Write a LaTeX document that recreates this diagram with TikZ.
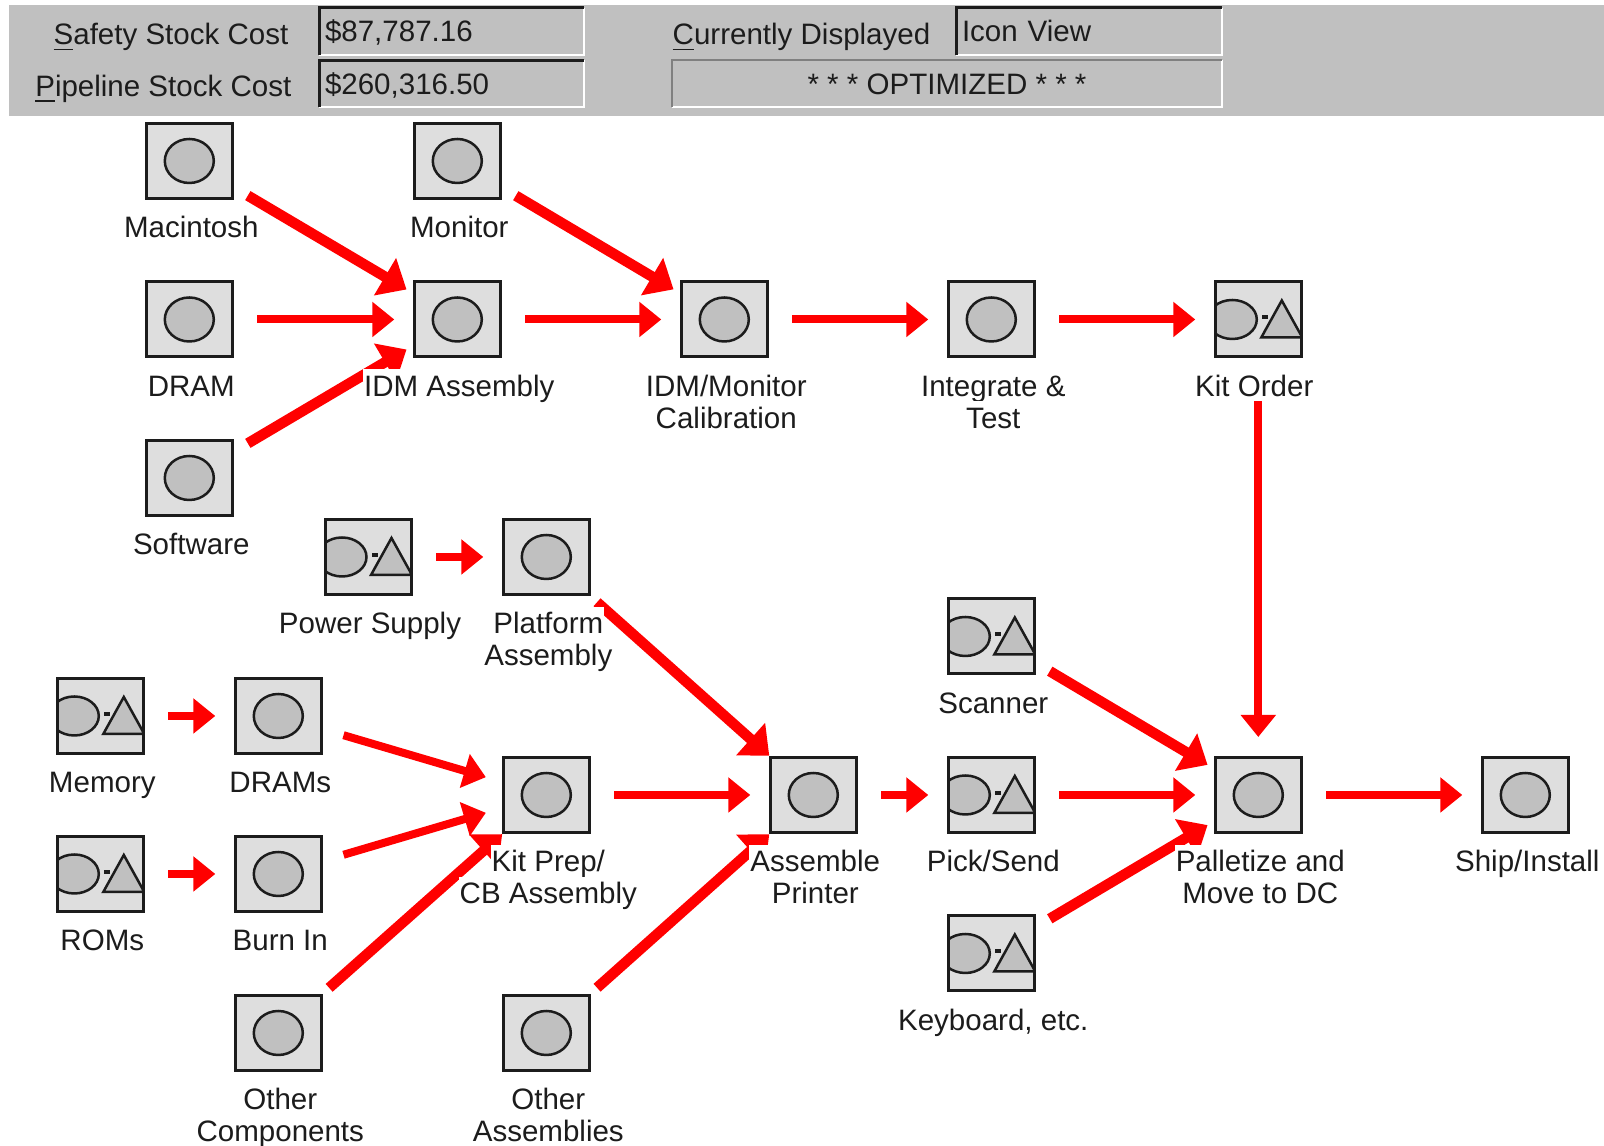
\documentclass[tikz,border=0pt]{standalone}
\usepackage{fontspec}
\setmainfont{Liberation Sans}
\usetikzlibrary{arrows.meta,positioning}
\definecolor{panelgrey}{HTML}{C0C0C0}
\definecolor{dither}{HTML}{DEDEDE}
\definecolor{inkdark}{HTML}{1C1C1C}

\tikzset{
	words/.style={font=\fontsize{8.4}{9}\selectfont, text=inkdark},
	partbox/.style={draw=inkdark, line width=.03cm, fill=dither, inner sep=0, outer sep=0, minimum width=.86cm, minimum height=.75cm},
	stagebox/.style={partbox, path picture={
		\draw[inkdark, fill=panelgrey, line width=.025cm] (path picture bounding box.center) ellipse (.245 and .22);
	}},
	stockbox/.style={partbox, path picture={
		\begin{scope}[shift={(path picture bounding box.center)}]
			\draw[inkdark, fill=panelgrey, line width=.025cm] (-.26, 0) ellipse (.245 and .195);
			\draw[inkdark, line width=.04cm] (.04, .02) -- (.1, .02);
			\draw[inkdark, fill=panelgrey, line width=.025cm] (.235, .19) -- (.03, -.18) -- (.44, -.18) -- cycle;
		\end{scope}
	}},
	caption/.style={words, fill=white, inner sep=0, inner xsep=.01cm, outer sep=0, text height=.27cm, text depth=.05cm, xshift=.02cm},
	captiontwo/.style={caption, xshift=-.02cm},
	flow/.style={red, line width=.08cm, shorten <=.68cm, shorten >=.63cm, -{Triangle[length=.22cm, width=.34cm]}},
	flowdiag/.style={red, line width=.105cm, shorten <=.68cm, shorten >=.59cm, -{Triangle[length=.25cm, width=.42cm]}},
	field/.style={words, fill=panelgrey, inner ysep=0, inner xsep=.06cm, outer sep=0, align=left, minimum height=.47cm, text height=.26cm, text depth=.05cm},
	bevellight/.style={white, line width=.02cm},
	beveldark/.style={inkdark, line width=.03cm}
}

\begin{document}
\begin{tikzpicture}
	\useasboundingbox (0, 0) rectangle (16.04, 11.46);
	\fill[panelgrey] (.09, 10.3) rectangle (16.04, 11.41);

	\node[words, anchor=east, inner sep=0] (safetyname) at (2.89, 11.09) {\underline{S}afety Stock Cost};
	\node[words, anchor=east, inner sep=0] (pipename) at (2.92, 10.57) {\underline{P}ipeline Stock Cost};
	\node[words, anchor=west, inner sep=0] (shownname) at (6.72, 11.09) {\underline{C}urrently Displayed};
	\node[field, text width=2.53cm] (safetyval) at (4.515, 11.145) {\$87,787.16};
	\node[field, text width=2.53cm] (pipeval) at (4.515, 10.62) {\$260,316.50};
	\node[field, text width=2.54cm] (shownval) at (10.89, 11.145) {Icon View};
	\node[field, minimum width=5.5cm, align=center] (optval) at (9.47, 10.62) {* * * OPTIMIZED * * *};
	\draw[bevellight] (safetyval.south west) -- (safetyval.south east) -- (safetyval.north east);
	\draw[beveldark] (safetyval.south west) -- (safetyval.north west) -- (safetyval.north east);
	\draw[bevellight] (pipeval.south west) -- (pipeval.south east) -- (pipeval.north east);
	\draw[beveldark] (pipeval.south west) -- (pipeval.north west) -- (pipeval.north east);
	\draw[bevellight] (shownval.south west) -- (shownval.south east) -- (shownval.north east);
	\draw[beveldark] (shownval.south west) -- (shownval.north west) -- (shownval.north east);
	\draw[bevellight] (optval.south west) -- (optval.south east) -- (optval.north east);
	\draw[gray, line width=.02cm] (optval.south west) -- (optval.north west) -- (optval.north east);

	\node[stagebox] (mac) at (1.893, 9.85) {};
	\node[stagebox] (monitor) at (4.573, 9.85) {};
	\node[stagebox] (dram) at (1.893, 8.265) {};
	\node[stagebox] (idm) at (4.573, 8.265) {};
	\node[stagebox] (cal) at (7.243, 8.265) {};
	\node[stagebox] (integ) at (9.913, 8.265) {};
	\node[stockbox] (kit) at (12.583, 8.265) {};
	\node[stagebox] (soft) at (1.893, 6.68) {};
	\node[stockbox] (power) at (3.68, 5.89) {};
	\node[stagebox] (platform) at (5.463, 5.89) {};
	\node[stockbox] (scanner) at (9.913, 5.095) {};
	\node[stockbox] (memory) at (1.003, 4.3) {};
	\node[stagebox] (drams) at (2.783, 4.3) {};
	\node[stagebox] (kitprep) at (5.463, 3.51) {};
	\node[stagebox] (assemble) at (8.133, 3.51) {};
	\node[stockbox] (pick) at (9.913, 3.51) {};
	\node[stagebox] (pallet) at (12.583, 3.51) {};
	\node[stagebox] (ship) at (15.253, 3.51) {};
	\node[stockbox] (roms) at (1.003, 2.72) {};
	\node[stagebox] (burnin) at (2.783, 2.72) {};
	\node[stockbox] (keyboard) at (9.913, 1.925) {};
	\node[stagebox] (othercomp) at (2.783, 1.13) {};
	\node[stagebox] (otherasm) at (5.463, 1.13) {};

	\draw[flowdiag] (mac.center) -- (idm.center);
	\draw[flow] (dram.center) -- (idm.center);
	\draw[flowdiag] (soft.center) -- (idm.center);
	\draw[flowdiag] (monitor.center) -- (cal.center);
	\draw[flow] (idm.center) -- (cal.center);
	\draw[flow] (cal.center) -- (integ.center);
	\draw[flow] (integ.center) -- (kit.center);
	\draw[flow, shorten >=.58cm] (kit.center) -- (pallet.center);
	\draw[flow] (power.center) -- (platform.center);
	\draw[flowdiag] (platform.center) -- (assemble.center);
	\draw[flow] (memory.center) -- (drams.center);
	\draw[flow] (roms.center) -- (burnin.center);
	\draw[flow] (drams.center) -- (kitprep.center);
	\draw[flow] (burnin.center) -- (kitprep.center);
	\draw[flowdiag] (othercomp.center) -- (kitprep.center);
	\draw[flow] (kitprep.center) -- (assemble.center);
	\draw[flowdiag] (otherasm.center) -- (assemble.center);
	\draw[flow] (assemble.center) -- (pick.center);
	\draw[flow] (pick.center) -- (pallet.center);
	\draw[flowdiag] (scanner.center) -- (pallet.center);
	\draw[flowdiag] (keyboard.center) -- (pallet.center);
	\draw[flow] (pallet.center) -- (ship.center);

	\node[caption, below=.125cm of mac] (macname) {Macintosh};
	\node[caption, below=.125cm of monitor] (monitorname) {Monitor};
	\node[caption, below=.125cm of dram] (dramname) {DRAM};
	\node[caption, below=.125cm of idm] (idmname) {IDM Assembly};
	\node[caption, below=.125cm of cal] (calname) {IDM/Monitor};
	\node[captiontwo, below=0cm of calname] (calnametwo) {Calibration};
	\node[caption, below=.125cm of integ] (integname) {Integrate \&};
	\node[captiontwo, below=0cm of integname] (integnametwo) {Test};
	\node[caption, below=.125cm of kit, xshift=-.06cm] (kitname) {Kit Order};
	\node[caption, below=.125cm of soft] (softname) {Software};
	\node[caption, below=.125cm of power] (powername) {Power Supply};
	\node[caption, below=.125cm of platform] (platformname) {Platform};
	\node[captiontwo, below=0cm of platformname] (platformnametwo) {Assembly};
	\node[caption, below=.125cm of scanner] (scannername) {Scanner};
	\node[caption, below=.125cm of memory] (memoryname) {Memory};
	\node[caption, below=.125cm of drams] (dramsname) {DRAMs};
	\node[caption, below=.125cm of kitprep] (kitprepname) {Kit Prep/};
	\node[captiontwo, below=0cm of kitprepname] (kitprepnametwo) {CB Assembly};
	\node[caption, below=.125cm of assemble] (assemblename) {Assemble};
	\node[captiontwo, below=0cm of assemblename] (assemblenametwo) {Printer};
	\node[caption, below=.125cm of pick] (pickname) {Pick/Send};
	\node[caption, below=.125cm of pallet] (palletname) {Palletize and};
	\node[captiontwo, below=0cm of palletname] (palletnametwo) {Move to DC};
	\node[caption, below=.125cm of ship] (shipname) {Ship/Install};
	\node[caption, below=.125cm of roms] (romsname) {ROMs};
	\node[caption, below=.125cm of burnin] (burninname) {Burn In};
	\node[caption, below=.125cm of keyboard] (keyboardname) {Keyboard, etc.};
	\node[caption, below=.125cm of othercomp] (othercompname) {Other};
	\node[captiontwo, below=0cm of othercompname] (othercompnametwo) {Components};
	\node[caption, below=.125cm of otherasm] (otherasmname) {Other};
	\node[captiontwo, below=0cm of otherasmname] (otherasmnametwo) {Assemblies};
\end{tikzpicture}
\end{document}
